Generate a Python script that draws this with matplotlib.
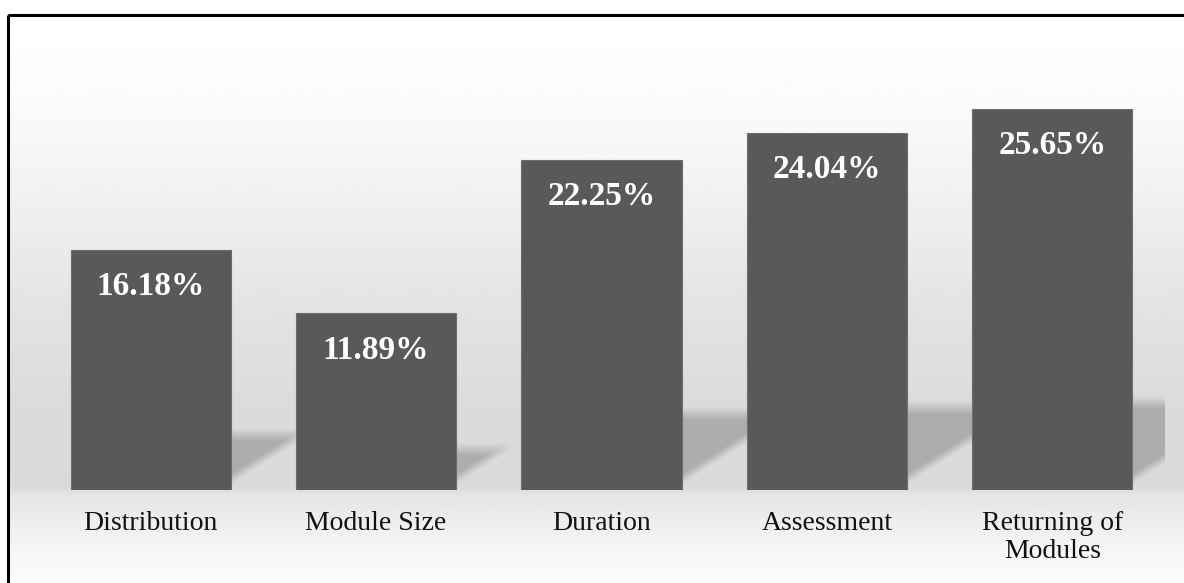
import numpy as np
import matplotlib
matplotlib.use("Agg")
import matplotlib.pyplot as plt
from matplotlib.patches import Rectangle

plt.rcParams["font.family"] = ["Liberation Serif", "DejaVu Serif"]

categories = ["Distribution", "Module Size", "Duration", "Assessment", "Returning of\nModules"]
values = [16.18, 11.89, 22.25, 24.04, 25.65]
value_labels = ["16.18%", "11.89%", "22.25%", "24.04%", "25.65%"]

W, H = 1184, 583


def draw_background(fig):
    # full figure axes in pixel coords for the gradient and the frame
    bg = fig.add_axes([0, 0, 1, 1], zorder=-10)
    bg.set_xlim(0, W)
    bg.set_ylim(H, 0)
    bg.axis("off")

    ys = np.arange(H)
    stops_y = [0, 15, 100, 200, 300, 400, 485, 492, 540, 583]
    stops_g = [255, 255, 250, 239, 227, 219, 218, 229, 244, 252]
    grey = np.interp(ys, stops_y, stops_g) / 255.0
    img = np.repeat(grey[:, None], 2, axis=1)
    bg.imshow(img, cmap="gray", vmin=0, vmax=1, aspect="auto",
              extent=[8, W + 5, H, 15], interpolation="bilinear")

    # black frame, right and bottom run off the picture
    bg.add_patch(Rectangle((8, 15), W + 20, H + 20, fill=False,
                           edgecolor="black", linewidth=2.2))
    return bg


def draw_shadow(ax, right, v):
    # soft shadow on the floor, right of a bar
    w = 0.32
    top_s = 0.23 * v
    slope = 0.633 * 225.4 / 14.85
    xs = np.linspace(right, right + w, 120)
    ys = np.linspace(0, top_s + 1.5, 160)
    X, Y = np.meshgrid(xs, ys)
    diag = 0.74 + slope * (X - right)
    a_top = np.clip((top_s - Y) / 0.9 + 0.5, 0, 1)
    a_diag = np.clip((Y - diag) / 0.7 + 0.5, 0, 1)
    alpha = a_top * a_diag
    rgba = np.zeros(alpha.shape + (4,))
    rgba[..., :3] = 0.68
    rgba[..., 3] = alpha
    ax.imshow(rgba, extent=[right, right + w, 0, top_s + 1.5], origin="lower",
              aspect="auto", interpolation="bilinear", zorder=1)


def draw_chart(fig):
    ax = fig.add_axes([38 / W, 93 / H, 1127 / W, 445.5 / H])
    ax.patch.set_alpha(0)
    x = np.arange(len(categories))
    width = 0.71

    for xi, v in zip(x, values):
        draw_shadow(ax, xi + width / 2, v)

    ax.bar(x, values, width=width, color="#595959", edgecolor="#6e6e6e",
           linewidth=0.8, zorder=3)

    for xi, v, lab in zip(x, values, value_labels):
        ax.annotate(lab, (xi, v), xytext=(0, -26.5), textcoords="offset points",
                    ha="center", va="center", color="white", fontsize=24,
                    fontweight="bold", zorder=4)

    ax.set_xlim(-0.5, 4.5)
    ax.set_ylim(0, 30)
    ax.set_xticks(x)
    ax.set_xticklabels(categories, fontsize=20, linespacing=1.18)
    ax.tick_params(axis="x", length=0, pad=15, colors="#111111")
    ax.set_yticks([])
    for s in ax.spines.values():
        s.set_visible(False)
    return ax


def main():
    fig = plt.figure(figsize=(W / 100, H / 100), dpi=100)
    fig.patch.set_facecolor("white")
    draw_background(fig)
    draw_chart(fig)
    fig.savefig("out.png", dpi=100)


if __name__ == "__main__":
    main()
